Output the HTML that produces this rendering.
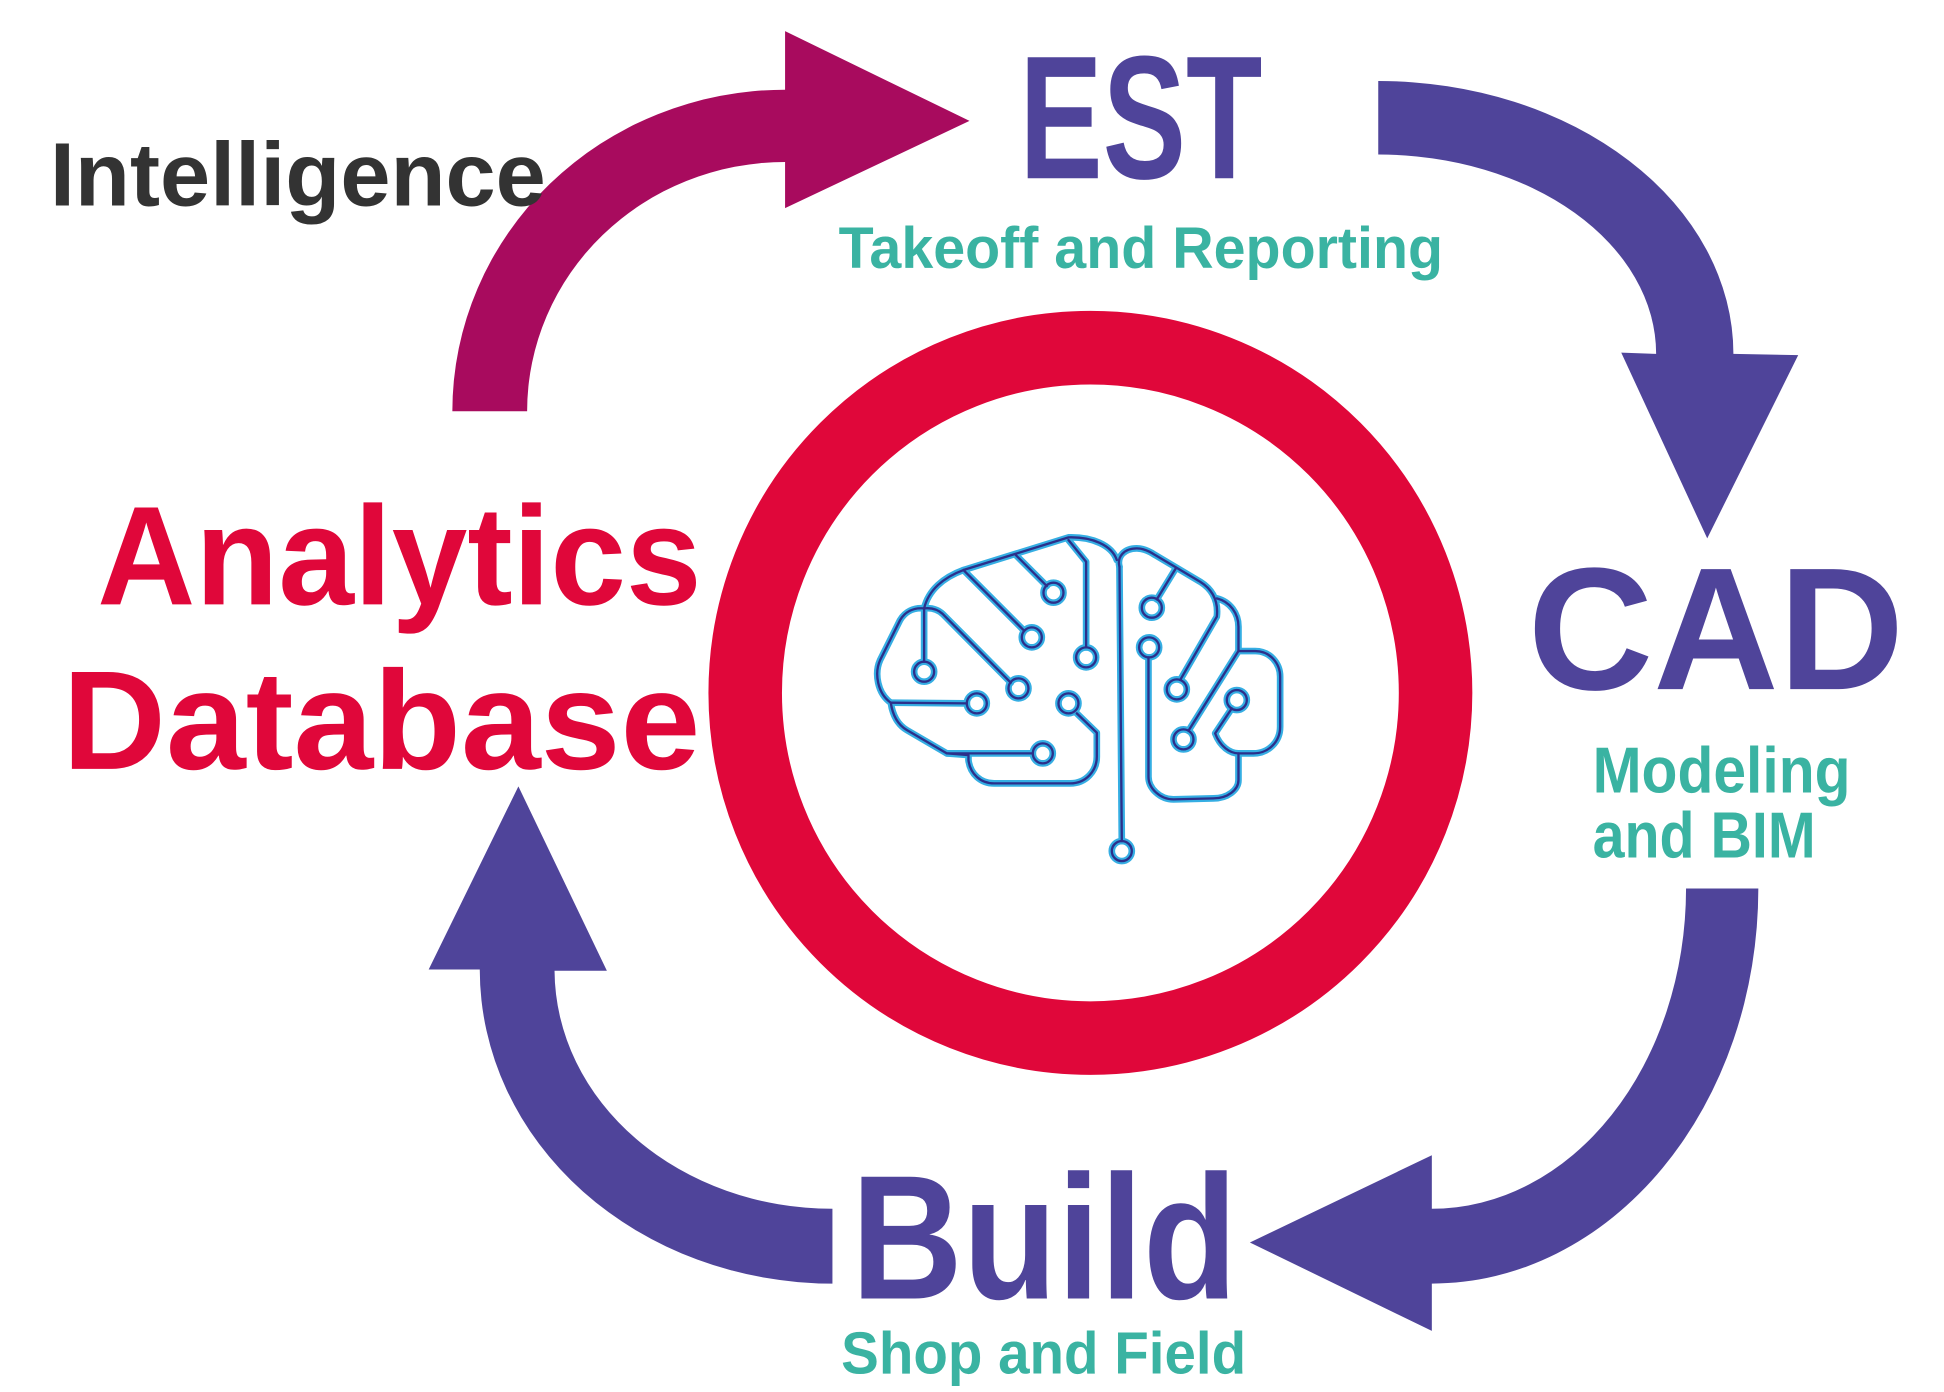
<!DOCTYPE html>
<html><head><meta charset="utf-8"><style>
html,body{margin:0;padding:0;background:#fff;}
svg{display:block;}
text{font-family:"Liberation Sans",sans-serif;font-weight:bold;}
</style></head><body>
<svg width="1944" height="1392" viewBox="0 0 1560 1117" preserveAspectRatio="none" xmlns="http://www.w3.org/2000/svg">
<rect width="1560" height="1117" fill="#fff"/>
<circle cx="875" cy="556" r="277" fill="none" stroke="#e0073a" stroke-width="59"/>
<path d="M363,330 A267,258 0 0 1 630,72 L630,25 L778,97 L630,167 L630,130 A207,200 0 0 0 423,330 Z" fill="#a80b5e"/>
<path d="M1106,65 A285,219 0 0 1 1391,284 L1443,285 L1370,432 L1301,283 L1329,284 A223,160 0 0 0 1106,124 Z" fill="#4f449a"/>
<path d="M1353,713 L1411,713 A262,317 0 0 1 1149,1030 L1149,1068 L1003,997 L1149,927 L1149,970 A204,257 0 0 0 1353,713 Z" fill="#4f449a"/>
<path d="M668,1030 A283,252 0 0 1 385,778 L344,778 L416,631 L487,779 L445,779 A223,192 0 0 0 668,970 Z" fill="#4f449a"/>

<text x="818" y="143" font-size="141" fill="#4f449a" textLength="195" lengthAdjust="spacingAndGlyphs">EST</text>
<text x="673" y="215" font-size="47" fill="#3ab3a2" textLength="485" lengthAdjust="spacingAndGlyphs">Takeoff and Reporting</text>
<text x="40" y="165" font-size="72" fill="#333" textLength="398" lengthAdjust="spacingAndGlyphs">Intelligence</text>
<text x="78" y="485" font-size="113" fill="#e0073a" textLength="485" lengthAdjust="spacingAndGlyphs">Analytics</text>
<text x="50" y="617" font-size="113" fill="#e0073a" textLength="512" lengthAdjust="spacingAndGlyphs">Database</text>
<text x="1226" y="553" font-size="140" fill="#4f449a" textLength="302" lengthAdjust="spacingAndGlyphs">CAD</text>
<text x="1278" y="636" font-size="52" fill="#3ab3a2" textLength="207" lengthAdjust="spacingAndGlyphs">Modeling</text>
<text x="1278" y="688" font-size="52" fill="#3ab3a2" textLength="179" lengthAdjust="spacingAndGlyphs">and BIM</text>
<text x="683" y="1042" font-size="142" fill="#4f449a" textLength="310" lengthAdjust="spacingAndGlyphs">Build</text>
<text x="675" y="1102" font-size="48" fill="#3ab3a2" textLength="325" lengthAdjust="spacingAndGlyphs">Shop and Field</text>

<g transform="translate(682.2,417.3) scale(0.2675)" fill="none" stroke-linejoin="round" stroke-linecap="round">
<defs>
<g id="br">
<path d="M800,120 C785,75 725,50 655,52 L340,150 C280,172 235,210 222,265 C190,262 165,275 150,300 L90,420 C72,460 82,520 122,548 C128,590 145,615 170,630 L290,700 L355,705 L355,720 C360,762 392,790 432,790 L660,790 C708,790 740,752 740,710 L740,638 L680,580"/>
<path d="M222,265 C248,262 265,270 278,282 L482,488"/>
<path d="M222,265 L222,425"/>
<path d="M122,548 L350,550"/>
<path d="M290,700 L548,700"/>
<path d="M340,150 L522,332"/>
<path d="M497,105 L590,198"/>
<path d="M655,60 L708,125 L708,382"/>
<path d="M808,140 L815,963"/>
<path d="M808,140 C800,110 822,85 860,85 C882,85 900,95 915,105 L1050,185 C1090,210 1105,245 1100,290 L990,480"/>
<path d="M1100,235 C1140,245 1165,280 1165,320 L1165,393 L1215,393 C1260,393 1290,430 1290,470 L1290,620 C1290,665 1255,700 1210,700 L1165,700 L1165,780 C1165,810 1132,835 1090,835 L970,838 C930,838 895,805 895,770 L895,412"/>
<path d="M1165,393 L1015,632"/>
<path d="M1145,565 L1095,640 C1110,680 1140,700 1165,700"/>
<path d="M977,145 L920,238"/>
<circle cx="222" cy="455" r="30"/><circle cx="380" cy="550" r="30"/><circle cx="505" cy="505" r="30"/>
<circle cx="545" cy="352" r="30"/><circle cx="610" cy="218" r="30"/><circle cx="708" cy="412" r="30"/>
<circle cx="655" cy="550" r="30"/><circle cx="578" cy="700" r="30"/><circle cx="815" cy="993" r="30"/>
<circle cx="905" cy="263" r="30"/><circle cx="897" cy="382" r="30"/><circle cx="980" cy="508" r="30"/>
<circle cx="1000" cy="658" r="30"/><circle cx="1160" cy="540" r="30"/>
</g>
</defs>
<use href="#br" stroke="#35aee3" stroke-width="20"/>
<use href="#br" stroke="#2c2f8a" stroke-width="7"/>
</g>
</svg>
</body></html>
